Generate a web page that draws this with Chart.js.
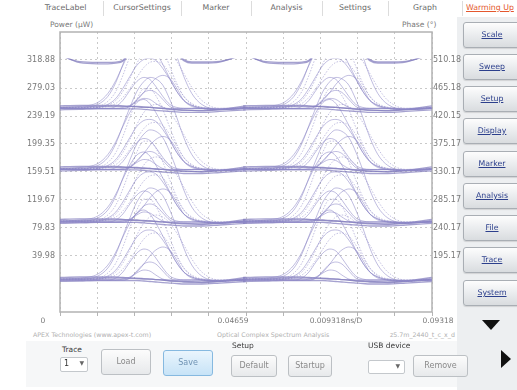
<!DOCTYPE html>
<html>
<head>
<meta charset="utf-8">
<script src="https://cdn.jsdelivr.net/npm/chart.js@4.4.1/dist/chart.umd.min.js"></script>
<style>
  html, body { margin:0; padding:0; }
  body { width:517px; height:390px; position:relative; overflow:hidden; background:#ffffff; font-family:"DejaVu Sans", Verdana, sans-serif; }
  .a { position:absolute; white-space:nowrap; }
  .tab { position:absolute; top:0; height:16px; line-height:16px; text-align:center; font-size:7.8px; color:#6a6a6a; white-space:nowrap; }
  .sep { position:absolute; top:1px; width:1px; height:15px; background:#dcdcdc; }
  .lbl { position:absolute; font-size:7.5px; color:#7a7a7a; white-space:nowrap; line-height:9px; }
  .info { position:absolute; top:331px; font-size:6.3px; color:#b0b0b0; white-space:nowrap; line-height:8px; }
  .side { position:absolute; left:463px; width:62px; height:26px; box-sizing:border-box; border:1px solid #a9aeb4; border-radius:3px; background:linear-gradient(#fdfdfd,#eceef0 45%,#d9dcdf); box-shadow:0 1px 1px rgba(0,0,0,0.12); text-align:center; line-height:24px; font-size:7.8px; color:#2c3f8c; text-decoration:underline; padding-right:4px; }
  .btn { position:absolute; box-sizing:border-box; border:1px solid #bcc0c4; border-radius:3px; background:linear-gradient(#fcfcfc,#e7e9eb); text-align:center; font-size:8px; color:#8a8a8a; }
  .ctl { position:absolute; font-size:7.5px; color:#3a3a3a; white-space:nowrap; line-height:9px; }
  .sel { position:absolute; box-sizing:border-box; border:1px solid #c4c8cc; border-radius:2px; background:#fff; font-size:8px; color:#333; }
  #chartBox { position:absolute; left:0; top:0; width:462px; height:330px; }
</style>
</head>
<body>
<div class="a" style="left:457px;top:17px;width:60px;height:373px;background:#edeff1;"></div>
<div class="a" style="left:26px;top:341px;width:431px;height:46px;background:#f6f7f8;"></div>

<div class="tab" style="left:28px;width:75px;">TraceLabel</div>
<div class="sep" style="left:103px;"></div>
<div class="tab" style="left:103px;width:78px;">CursorSettings</div>
<div class="sep" style="left:181px;"></div>
<div class="tab" style="left:181px;width:70px;">Marker</div>
<div class="sep" style="left:251px;"></div>
<div class="tab" style="left:251px;width:71px;">Analysis</div>
<div class="sep" style="left:322px;"></div>
<div class="tab" style="left:322px;width:66px;">Settings</div>
<div class="sep" style="left:388px;"></div>
<div class="tab" style="left:388px;width:74px;">Graph</div>
<div class="sep" style="left:462px;"></div>
<div class="a" style="left:466px;top:3px;font-size:7.8px;color:#e4572e;text-decoration:underline;line-height:10px;">Warming Up</div>

<div class="lbl" style="left:50px;top:20px;">Power (µW)</div>
<div class="lbl" style="left:402px;top:20px;">Phase (°)</div>

<div id="chartBox"><canvas id="c" width="462" height="330"></canvas></div>

<div class="info" style="left:33px;">APEX Technologies (www.apex-t.com)</div>
<div class="info" style="left:217px;">Optical Complex Spectrum Analysis</div>
<div class="info" style="left:390px;">z5.7m_2440_t_c_x_d</div>

<div class="side" style="top:22px;">Scale</div>
<div class="side" style="top:54px;">Sweep</div>
<div class="side" style="top:86px;">Setup</div>
<div class="side" style="top:118px;">Display</div>
<div class="side" style="top:151px;">Marker</div>
<div class="side" style="top:183px;">Analysis</div>
<div class="side" style="top:215px;">File</div>
<div class="side" style="top:247px;">Trace</div>
<div class="side" style="top:280px;">System</div>
<div class="a" style="left:482px;top:320px;width:0;height:0;border-left:9px solid transparent;border-right:9px solid transparent;border-top:10px solid #111;"></div>
<div class="a" style="left:501px;top:350px;width:0;height:0;border-top:9px solid transparent;border-bottom:9px solid transparent;border-left:10px solid #111;"></div>

<div class="ctl" style="left:62px;top:345px;">Trace</div>
<div class="sel" style="left:60px;top:357px;width:28px;height:15px;"><span style="position:absolute;left:3px;top:1px;">1</span><span style="position:absolute;right:3px;top:1px;font-size:6px;color:#666;">▼</span></div>
<div class="btn" style="left:101px;top:349px;width:50px;height:26px;line-height:24px;">Load</div>
<div class="btn" style="left:163px;top:350px;width:50px;height:26px;line-height:24px;border-color:#86b9e0;background:linear-gradient(#eaf5fd,#c7e3f7);color:#6f93b4;">Save</div>
<div class="ctl" style="left:232px;top:341px;">Setup</div>
<div class="btn" style="left:231px;top:355px;width:46px;height:22px;line-height:20px;">Default</div>
<div class="btn" style="left:288px;top:355px;width:44px;height:22px;line-height:20px;">Startup</div>
<div class="ctl" style="left:368px;top:341px;">USB device</div>
<div class="sel" style="left:368px;top:360px;width:37px;height:14px;"><span style="position:absolute;right:4px;top:1px;font-size:6px;color:#666;">▼</span></div>
<div class="btn" style="left:413px;top:355px;width:55px;height:22px;line-height:20px;">Remove</div>

<script>
// ---------------- data ----------------
const timeGridNs = [0, 0.009318, 0.018636, 0.027954, 0.037272, 0.04659, 0.055908, 0.065226, 0.074544, 0.083862, 0.09318];
const timeAxisLabels = ['0', '0.04659', '0.009318ns/D', '0.09318'];
const powerTicksUW = [318.88, 279.03, 239.19, 199.35, 159.51, 119.67, 79.83, 39.98];
const powerTickLabels = ['318.88', '279.03', '239.19', '199.35', '159.51', '119.67', '79.83', '39.98'];
const phaseTickLabels = ['510.18', '465.18', '420.15', '375.17', '330.17', '285.17', '240.17', '195.17'];
const powerMinUW = -39.71;
const powerMaxUW = 358.72;
const displayLimitUW = 321;

// eye-diagram sweeps: two pulse slots, same sample offsets around each slot
const pulseCentersNs = [0.0225, 0.0691];
const timeOffsetNs = [-0.02326, -0.01751, -0.01301, -0.01051, -0.00851, -0.00675, -0.00500, -0.00325, -0.00150, 0,
                      0.00150, 0.00325, 0.00500, 0.00675, 0.00851, 0.01051, 0.01301, 0.01751, 0.02401];

// top trace (pulses run above the display limit)
const topSweepAUW = [327, 316.5, 315.5, 315.5, 316.0, 318.5, 335, 360, 380, 385, 380, 362, 340, 330, 319.5, 316.0, 316.0, 317.0, 327];
const topSweepBUW = [329, 315.0, 313.5, 313.5, 314.5, 317.0, 332, 358, 378, 383, 378, 360, 338, 328, 318.0, 314.5, 314.5, 316.0, 329];

// display offsets of the four lower traces
const bandOffsetUW = [250.0, 163.1, 88.4, 5.8];

// sweeps relative to each trace's offset (µW)
const flatSweep1UW = [1.4, 2.1, 2.8, 2.8, 2.8, 2.8, 2.8, 2.1, 1.4, 1.4, 0.7, 0, -0.7, -1.4, -2.1, -2.8, -3.6, -2.1, 1.4];
const flatSweep2UW = [-2.1, -1.4, -0.7, -0.7, -0.7, -0.7, -0.7, -0.7, -1.4, -2.1, -2.8, -3.6, -4.3, -5.0, -5.7, -5.7, -5.7, -4.3, -2.1];
const flatSweep3UW = [3.6, 4.3, 4.3, 4.3, 4.3, 3.6, 2.8, 2.8, 2.1, 1.4, 0.7, 0, -1.4, -2.1, -2.8, -2.8, -2.8, -1.4, 3.6];
const pulseSweep1UW = [0, 0.7, 5.7, 17.1, 37.0, 62.6, 88.2, 111, 125, 131, 129, 120, 99.6, 74.0, 45.5, 21.3, 5.7, -1.4, 0];
const pulseSweep2UW = [1.4, 1.4, 2.8, 10.0, 24.2, 47.0, 74.0, 99.6, 115, 115, 105, 85.4, 59.8, 35.6, 17.1, 5.7, 0, -1.4, 1.4];
const pulseSweep3UW = [0, 0, 1.4, 5.7, 14.2, 28.5, 45.5, 61.2, 69.7, 71.2, 68.3, 56.9, 41.3, 24.2, 11.4, 4.3, 0, -1.4, 0];
const pulseSweep4UW = [1.4, 1.4, 1.4, 2.8, 7.1, 15.7, 28.5, 44.1, 58.3, 65.5, 66.9, 62.6, 49.8, 32.7, 17.1, 7.1, 1.4, -1.4, 1.4];
const pulseSweep5UW = [0, 0, 0, 0, 0, 1.4, 4.3, 11.4, 22.8, 34.2, 42.7, 47.0, 42.7, 28.5, 11.4, 2.8, 0, -1.4, 0];
const pulseSweep6UW = [0, 0, 0, 0, 2.8, 11.4, 25.6, 38.4, 44.1, 41.3, 31.3, 17.1, 5.7, 1.4, 0, 0, 0, -1.4, 0];
const pulseSweep7UW = [0, 0, 0, 0, 0, 0, 2.8, 12.8, 22.8, 25.6, 22.8, 12.8, 2.8, 0, 0, 0, 0, -1.4, 0];
const pulseSweep8UW = [0, 0, 0, 0, 0, 0, 2.8, 10.0, 14.2, 12.8, 7.1, 1.4, 0, 0, 0, 0, 0, -1.4, 0];
const pulseSweep9UW = [0, 0, 1.4, 4.3, 11.4, 24.2, 42.7, 64.0, 81.1, 89.6, 92.5, 89.6, 81.1, 66.9, 49.8, 29.9, 11.4, 0, 0];
const pulseSweep10UW = [1.4, 2.8, 8.5, 21.3, 39.8, 61.2, 81.1, 95.3, 99.6, 93.9, 81.1, 62.6, 42.7, 24.2, 11.4, 4.3, 1.4, 0, 1.4];

// ---------------- build datasets ----------------
const flatStyle = { borderColor: 'rgba(132,126,190,0.72)', borderWidth: 1.3 };
const pulseStyle = { borderColor: 'rgba(140,134,198,0.55)', borderWidth: 1 };
const dotStyle = { borderColor: 'rgba(140,134,198,0.5)', borderWidth: 1, borderDash: [1.5, 1.5] };

const flatSweeps = [flatSweep1UW, flatSweep2UW, flatSweep3UW];
const pulseSweeps = [pulseSweep1UW, pulseSweep2UW, pulseSweep3UW, pulseSweep4UW, pulseSweep5UW,
                     pulseSweep6UW, pulseSweep7UW, pulseSweep8UW, pulseSweep9UW, pulseSweep10UW];
const dottedSweeps = [1, 3, 8];

const datasets = [];
function addSweep(values, offset, style) {
  pulseCentersNs.forEach(c => {
    datasets.push(Object.assign({
      data: timeOffsetNs.map((dt, i) => ({ x: c + dt, y: offset + values[i] })),
      pointRadius: 0, fill: false, cubicInterpolationMode: 'monotone'
    }, style));
  });
}
bandOffsetUW.forEach(off => {
  pulseSweeps.forEach((s, k) => addSweep(s, off, dottedSweeps.includes(k) ? dotStyle : pulseStyle));
  flatSweeps.forEach(s => addSweep(s, off, flatStyle));
});
addSweep(topSweepAUW, 0, flatStyle);
addSweep(topSweepBUW, 0, flatStyle);

// ---------------- plugins ----------------
const framePlugin = {
  id: 'frame',
  beforeDatasetsDraw(chart) {
    const { ctx, chartArea: a } = chart;
    ctx.save();
    ctx.strokeStyle = '#b2b2b2';
    ctx.lineWidth = 1.5;
    ctx.strokeRect(a.left, a.top, a.right - a.left, a.bottom - a.top);
    ctx.restore();
  }
};
const limitPlugin = {
  id: 'limit',
  beforeDatasetsDraw(chart) {
    const { ctx, chartArea: a, scales } = chart;
    const yTop = scales.y.getPixelForValue(displayLimitUW);
    ctx.save();
    ctx.beginPath();
    ctx.rect(a.left, yTop, a.right - a.left, a.bottom - yTop);
    ctx.clip();
  },
  afterDatasetsDraw(chart) { chart.ctx.restore(); }
};
const timeLabelCenterPx = [43, 233, 336, 438];
const timeLabelPlugin = {
  id: 'timeLabels',
  afterDraw(chart) {
    const { ctx, chartArea: a } = chart;
    ctx.save();
    ctx.font = '7.5px "DejaVu Sans", sans-serif';
    ctx.fillStyle = '#7a7a7a';
    ctx.textAlign = 'center';
    ctx.textBaseline = 'middle';
    timeAxisLabels.forEach((t, i) => ctx.fillText(t, timeLabelCenterPx[i], a.bottom + 9));
    ctx.restore();
  }
};

const gridColor = '#c9c9c9';
const tickFont = { family: 'DejaVu Sans', size: 8 };

new Chart(document.getElementById('c'), {
  type: 'line',
  data: { datasets },
  options: {
    responsive: false,
    devicePixelRatio: 1,
    animation: false,
    events: [],
    layout: { padding: { top: 32, left: 0, right: 0, bottom: 0 } },
    plugins: { legend: { display: false }, tooltip: { enabled: false }, title: { display: false } },
    scales: {
      x: {
        type: 'linear', min: 0, max: timeGridNs[timeGridNs.length - 1],
        afterBuildTicks: s => { s.ticks = timeGridNs.map(v => ({ value: v })); },
        afterFit: s => { s.height = 18; },
        ticks: { display: false },
        grid: { color: gridColor, lineWidth: 1, drawTicks: true, tickLength: 4, tickColor: '#b5b5b5', tickBorderDash: [] },
        border: { display: false, dash: [2, 3] }
      },
      y: {
        type: 'linear', position: 'left', min: powerMinUW, max: powerMaxUW,
        afterBuildTicks: s => { s.ticks = powerTicksUW.map(v => ({ value: v })); },
        afterFit: s => { s.width = 60; },
        ticks: { autoSkip: false, color: '#7a7a7a', font: tickFont, padding: 5, callback: (v, i) => powerTickLabels[i] },
        grid: { color: gridColor, lineWidth: 1, drawTicks: false },
        border: { display: false, dash: [2, 3] }
      },
      y2: {
        type: 'linear', position: 'right', min: powerMinUW, max: powerMaxUW,
        afterBuildTicks: s => { s.ticks = powerTicksUW.map(v => ({ value: v })); },
        afterFit: s => { s.width = 30; },
        ticks: { autoSkip: false, color: '#7a7a7a', font: tickFont, padding: 1, callback: (v, i) => phaseTickLabels[i] },
        grid: { display: false, drawTicks: false },
        border: { display: false }
      }
    }
  },
  plugins: [framePlugin, limitPlugin, timeLabelPlugin]
});
</script>
</body>
</html>
